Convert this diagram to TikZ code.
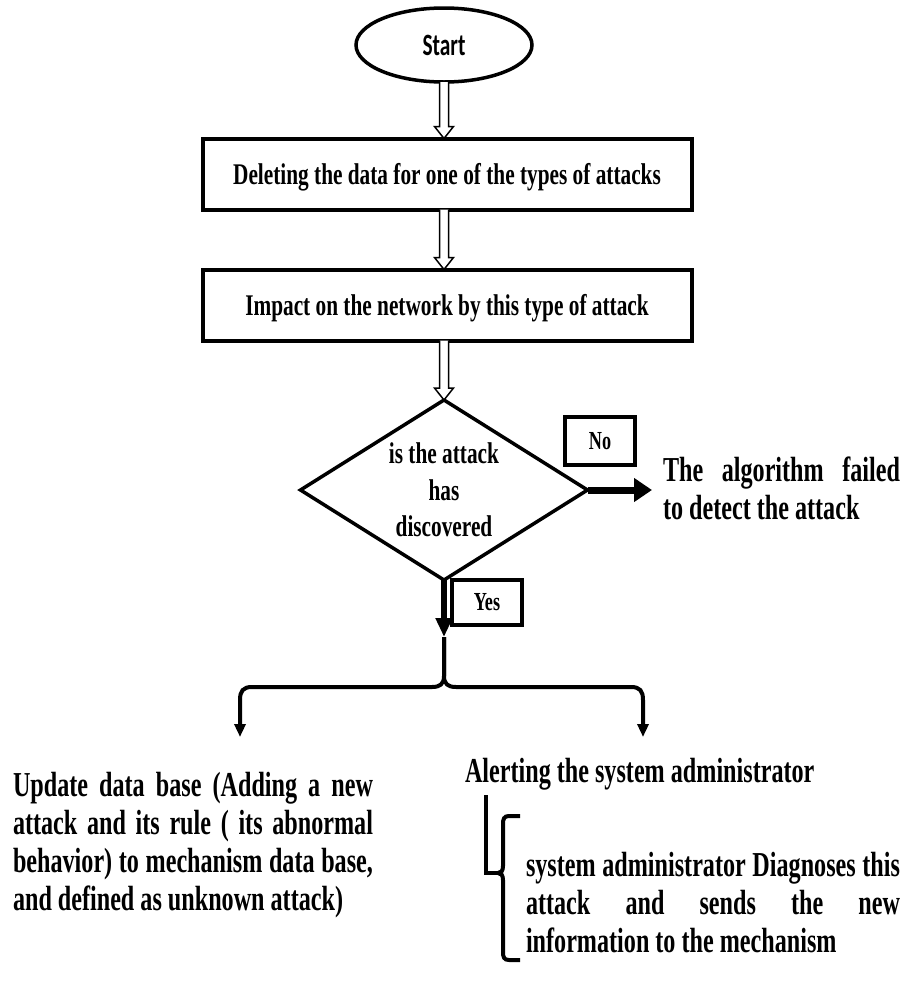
\documentclass[tikz,border=0pt]{standalone}
\usepackage{fontspec}
\setmainfont{Liberation Serif}
\newfontfamily\boxfont{Liberation Serif}[FakeStretch=0.71]
\newfontfamily\txtfont{Liberation Serif}[FakeStretch=0.69]
\newfontfamily\lblfont{Liberation Serif}[FakeStretch=0.70]
\newfontfamily\startfont{Carlito}[FakeStretch=0.69]
\usetikzlibrary{shapes.geometric,arrows.meta,calc}
\newcommand\hollowarrow[2]{%
  \draw[hollowline] let \p1=(#1), \p2=(#2) in
    (\x1-4.5pt,\y1) -- (\x1-4.5pt,\y2+12pt) -- (\x1-9.5pt,\y2+12pt) -- (\x1,\y2)
    -- (\x1+9.5pt,\y2+12pt) -- (\x1+4.5pt,\y2+12pt) -- (\x1+4.5pt,\y1);}
\begin{document}
\begin{tikzpicture}[x=1pt,y=-1pt,
  every node/.style={inner sep=0pt, outer sep=0pt},
  startnode/.style={ellipse, draw, line width=3.5pt, minimum width=176pt, minimum height=74pt,
    font=\startfont\bfseries\fontsize{31}{31}\selectfont},
  procbox/.style={rectangle, draw, line width=4pt, minimum width=489pt, minimum height=71pt,
    text height=20pt, text depth=0pt,
    font=\boxfont\bfseries\fontsize{30}{34}\selectfont},
  decision/.style={diamond, aspect=1.6, draw, line width=3.5pt, minimum width=287pt, minimum height=180pt,
    align=center, font=\boxfont\bfseries\fontsize{30}{36.5}\selectfont},
  lblbox/.style={rectangle, draw, line width=4pt, font=\lblfont\bfseries\fontsize{26}{26}\selectfont},
  bodytext/.style={font=\txtfont\bfseries\fontsize{35}{38}\selectfont},
  hollowline/.style={line width=1.5pt, line join=miter, fill=white},
  thickarrow/.style={line width=7pt, -{Triangle[length=18pt,width=23pt]}},
  downarrow/.style={line width=5.5pt, -{Triangle[length=19pt,width=16pt]}},
  bracelines/.style={line width=4pt},
  branch/.style={line width=4pt, -{Triangle[length=13pt,width=11pt]}}
]
\fill[white] (0,0) rectangle (905,994);
\useasboundingbox (0,0) rectangle (905,994);

\node[startnode] (start) at (444,45) {Start};
\node[procbox] (del) at (447,174) {Deleting the data for one of the types of attacks};
\node[procbox] (imp) at (447,305) {Impact on the network by this type of attack};
\node[decision] (dia) at (444,490) {is the attack\\has\\discovered};
\node[lblbox, minimum width=70pt, minimum height=48pt] (no) at (600,441) {No};
\node[lblbox, minimum width=70pt, minimum height=45pt] (yes) at (487,602) {Yes};

\node[bodytext, anchor=north west, text width=237pt, align=justify] (fail) at (663,457)
  {The algorithm failed\linebreak to detect the attack};
\node[bodytext, anchor=north west, text width=360pt, align=justify] (upd) at (13,772)
  {Update data base (Adding a new\linebreak attack and its rule ( its abnormal\linebreak
   behavior) to mechanism data base,\linebreak and defined as unknown attack)};
\node[bodytext, anchor=base west] (alert) at (465,782) {Alerting the system administrator};
\node[bodytext, anchor=north west, text width=374pt, align=justify] (diag) at (526,852)
  {system administrator Diagnoses this\linebreak attack and sends the new\linebreak
   information to the mechanism};

\coordinate (impbot) at (imp.south -| dia.north);
\coordinate (delbot) at (del.south -| dia.north);
\coordinate (deltop) at (del.north -| dia.north);
\coordinate (imptop) at (imp.north -| dia.north);
\hollowarrow{start.south}{deltop}
\hollowarrow{delbot}{imptop}
\hollowarrow{impbot}{dia.north}

\coordinate (failtip) at (652,490);
\draw[thickarrow] (dia.east) -- (failtip);

\coordinate (split) at (444,637);
\draw[downarrow] (dia.south) -- (split);
\coordinate (lt) at (240,737);
\coordinate (rt) at (643,737);
\draw[branch] (split) -- (444,676) .. controls (444,684) and (440,687) .. (432,687)
  -- (252,687) .. controls (243,687) and (240,691) .. (240,700) -- (lt);
\draw[branch] (split) -- (444,676) .. controls (444,684) and (448,687) .. (456,687)
  -- (631,687) .. controls (640,687) and (643,691) .. (643,700) -- (rt);

\coordinate (vtop) at (486,795);
\coordinate (cusp) at (498,873);
\draw[bracelines] (vtop) -- (486,873) -- (cusp);
\draw[bracelines] (520,816) -- (509,816) .. controls (504,816) and (503,819) .. (503,824)
  -- (503,866) .. controls (503,871) and (501,873) .. (cusp)
  .. controls (501,873) and (503,875) .. (503,880)
  -- (503,952) .. controls (503,957) and (504,960) .. (509,960) -- (520,960);
\end{tikzpicture}
\end{document}
